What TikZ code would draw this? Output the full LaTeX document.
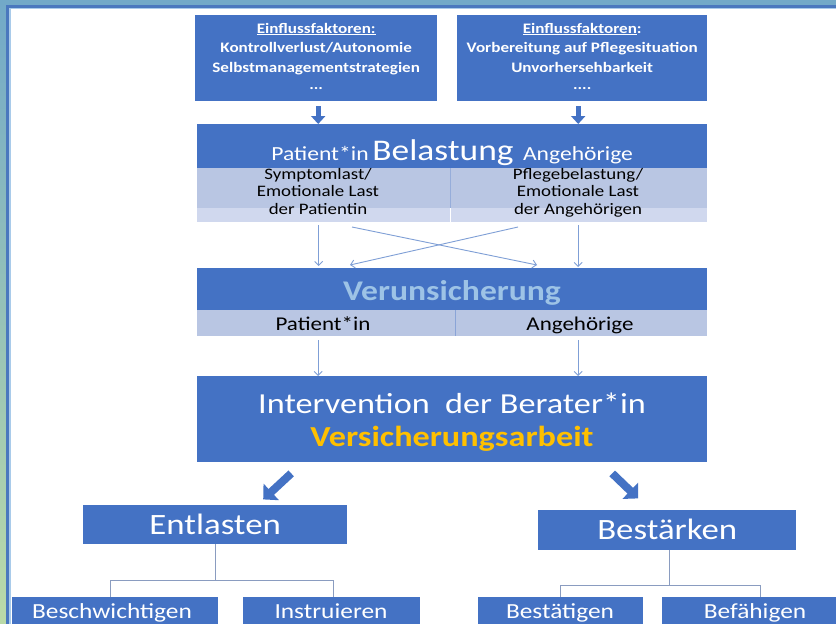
\documentclass[tikz,border=0pt]{standalone}
\usepackage{fontspec}
\setmainfont{Carlito}[FakeStretch=1.18]
\usetikzlibrary{arrows.meta,calc}
\definecolor{dblue}{HTML}{4472C4}
\definecolor{bandA}{HTML}{B9C6E3}
\definecolor{bandB}{HTML}{D0D8EE}
\definecolor{thinc}{HTML}{7F9FD6}
\definecolor{treec}{HTML}{8A9CC0}
\definecolor{frameT}{HTML}{72A9C8}
\definecolor{frameB}{HTML}{BADAA8}
\definecolor{frameblue}{HTML}{4A78BE}
\definecolor{framelight}{HTML}{A9CBEA}
\definecolor{orangec}{HTML}{FFC000}
\definecolor{verc}{HTML}{9DC3E6}
\tikzset{
  box/.style={fill=dblue, draw=none, inner sep=0pt, anchor=north west, text=white},
  bandbox/.style={fill=bandA, draw=none, inner sep=0pt, anchor=north west},
  thinarrow/.style={draw=thinc, line width=0.9pt, -{Straight Barb[length=4pt,width=8pt]}},
  blockarrow/.style={draw=dblue, line width=5pt, -{Triangle[length=8pt,width=14pt]}},
  bigblockarrow/.style={draw=dblue, line width=8pt, -{Triangle[length=11pt,width=22pt]}},
  treeline/.style={draw=treec, line width=1.1pt},
  lbl/.style={inner sep=0pt, anchor=base},
  toptxt/.style={lbl, text=white, font=\bfseries\fs{14.5}}
}
\newcommand{\fs}[1]{\fontsize{#1}{#1}\selectfont}
\begin{document}
\begin{tikzpicture}[x=1pt,y=-1pt]
\useasboundingbox (0,0) rectangle (836,624);
\fill[white] (0,0) rectangle (836,624);
% frame
\shade[top color=frameT, bottom color=frameB] (0,0) rectangle (7,624);
\fill[frameT] (0,0) rectangle (836,5);
\fill[frameblue] (6,5) rectangle (9,624);
\fill[frameblue] (6,5) rectangle (836,8);
\fill[framelight] (9,8) rectangle (10.5,624);
\fill[framelight] (9,8) rectangle (836,9);

% top boxes
\node[box, minimum width=242, minimum height=86] (ein1) at (195,15) {};
\node[box, minimum width=250, minimum height=86] (ein2) at (457,15) {};
\node[toptxt] at ($(ein1.north)+(0,18)$) {\underline{Einflussfaktoren:}};
\node[toptxt] at ($(ein1.north)+(0,37)$) {Kontrollverlust/Autonomie};
\node[toptxt] at ($(ein1.north)+(0,57)$) {Selbstmanagementstrategien};
\node[toptxt] at ($(ein1.north)+(0,74)$) {...};
\node[toptxt] at ($(ein2.north)+(0,18)$) {\underline{Einflussfaktoren}:};
\node[toptxt] at ($(ein2.north)+(0,37)$) {Vorbereitung auf Pflegesituation};
\node[toptxt] at ($(ein2.north)+(0,57)$) {Unvorhersehbarkeit};
\node[toptxt] at ($(ein2.north)+(0,74)$) {....};

% Belastung
\node[box, minimum width=510, minimum height=44] (bel) at (197,124) {};
\node[bandbox, minimum width=253, minimum height=54] (belL) at (197,168) {};
\node[bandbox, minimum width=257, minimum height=54] (belR) at (450,168) {};
\fill[bandB] (197,208) rectangle (707,222);
\draw[white, line width=1.2pt] (belL.north east) -- (belL.south east);
\draw[bandA!70!dblue, line width=0.6pt] (belL.north east) -- ($(belL.north east)+(0,40)$);
\node[lbl, text=white, font=\fs{20}] at (320,160) {Patient*in};
\node[lbl, text=white, font=\fs{30}] at (443,160) {Belastung};
\node[lbl, text=white, font=\fs{20}] at (578,160) {Angehörige};
\node[lbl, font=\fs{16}] at (318,179) {Symptomlast/};
\node[lbl, font=\fs{16}] at (318,196.5) {Emotionale Last};
\node[lbl, font=\fs{16}] at (318,214) {der Patientin};
\node[lbl, font=\fs{16}] at (578,179) {Pflegebelastung/};
\node[lbl, font=\fs{16}] at (578,196.5) {Emotionale Last};
\node[lbl, font=\fs{16}] at (578,214) {der Angehörigen};

\draw[blockarrow] ($(ein1.south)+(2,5)$) -- ($(ein1.south |- bel.north)+(2,0)$);
\draw[blockarrow] ($(ein2.south)+(-4,5)$) -- ($(ein2.south |- bel.north)+(-4,0)$);

% Verunsicherung
\node[box, minimum width=510, minimum height=42] (ver) at (197,268) {};
\node[bandbox, minimum width=258, minimum height=26] (verL) at (197,310) {};
\node[bandbox, minimum width=252, minimum height=26] (verR) at (455,310) {};
\draw[bandA!60!dblue, line width=0.6pt] (verL.north east) -- (verL.south east);
\node[lbl, text=verc, font=\bfseries\fs{28.5}] at (452,300) {Verunsicherung};
\node[lbl, font=\fs{19.5}] at (323,330) {Patient*in};
\node[lbl, font=\fs{19.5}] at (580,330) {Angehörige};

% arrows Belastung -> Verunsicherung
\coordinate (c1) at (352,227);
\coordinate (c2) at (537,265);
\coordinate (c3) at (518,227);
\coordinate (c4) at (350,265);
\draw[thinarrow] ($(belL.south)+(-5,3)$) -- ($(belL.south |- ver.north)+(-5,-2)$);
\draw[thinarrow] ($(belR.south)+(-0.5,3)$) -- ($(belR.south |- ver.north)+(-0.5,-1)$);
\draw[thinarrow] (c1) -- (c2);
\draw[thinarrow] (c3) -- (c4);

% Intervention
\node[box, minimum width=510, minimum height=86] (int) at (197,376) {};
\node[lbl, text=white, font=\fs{29}] at (452,413) {Intervention\ \ der Berater*in};
\node[lbl, text=orangec, font=\bfseries\fs{29}] at (452,446) {Versicherungsarbeit};
\draw[thinarrow] ($(verL.south)+(-8,4)$) -- ($(verL.south |- int.north)+(-8,0)$);
\draw[thinarrow] ($(verR.south)+(-3,4)$) -- ($(verR.south |- int.north)+(-3,0)$);

% Entlasten / Bestaerken
\node[box, minimum width=264, minimum height=39] (ent) at (83,505) {};
\node[lbl, text=white, font=\fs{29.5}] at ($(ent.center)+(0,9.5)$) {Entlasten};
\node[box, minimum width=258, minimum height=40] (bes) at (538,510) {};
\node[lbl, text=white, font=\fs{29.5}] at ($(bes.center)+(0,9.5)$) {Bestärken};
\draw[bigblockarrow] ($(int.south)+(-161,11)$) -- ($(int.south)+(-189,37)$);
\draw[bigblockarrow] ($(int.south)+(160,11)$) -- ($(int.south)+(186,36)$);

% bottom boxes
\node[box, minimum width=206, minimum height=34] (b1) at (12,597) {};
\node[box, minimum width=177, minimum height=34] (b2) at (243,597) {};
\node[box, minimum width=165, minimum height=34] (b3) at (478,597) {};
\node[box, minimum width=176, minimum height=34] (b4) at (662,597) {};
\node[lbl, text=white, font=\fs{21.5}] at (112,618) {Beschwichtigen};
\node[lbl, text=white, font=\fs{21.5}] at (331,618) {Instruieren};
\node[lbl, text=white, font=\fs{21.5}] at (560,618) {Bestätigen};
\node[lbl, text=white, font=\fs{21.5}] at (755,618) {Befähigen};

% trees
\draw[treeline] (ent.south) -- ($(ent.south)+(0,36)$) coordinate (t1);
\draw[treeline] ($(b1.north)+(-5,0)$) |- (t1) -| ($(b2.north)+(2,0)$);
\draw[treeline] ($(bes.south)+(2,0)$) -- ($(bes.south)+(2,35)$) coordinate (t2);
\draw[treeline] (b3.north) |- (t2) -| ($(b4.north)+(10,0)$);
\end{tikzpicture}
\end{document}
